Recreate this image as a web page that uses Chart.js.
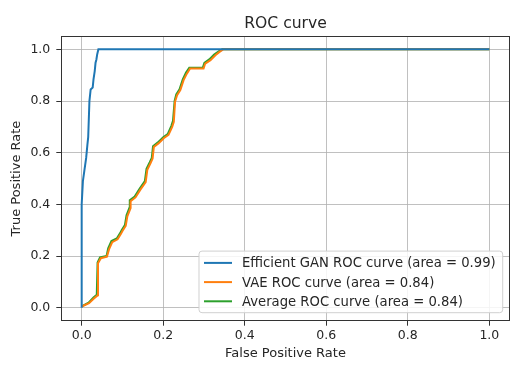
<!DOCTYPE html>
<html>
<head>
<meta charset="utf-8">
<script src="https://cdn.jsdelivr.net/npm/chart.js@4"></script>
<style>
  body { margin: 0; background: #fff; }
  #wrap { width: 525px; height: 369px; }
</style>
</head>
<body>
<div id="wrap"><canvas id="roc-grafica"></canvas></div>
<script>
// values
const ganFpr = [0, 0, 0.003, 0.0065, 0.011, 0.014, 0.016, 0.019, 0.022, 0.027, 0.029, 0.032, 0.034, 0.036, 0.038, 0.041, 1.0];
const ganTpr = [0, 0.40, 0.49, 0.53, 0.58, 0.63, 0.66, 0.80, 0.845, 0.852, 0.884, 0.916, 0.948, 0.96, 0.98, 1.0, 1.0];

const vaeFpr = [0, 0.018, 0.03, 0.039, 0.04, 0.047, 0.062, 0.067, 0.075, 0.088, 0.096, 0.1, 0.108, 0.112, 0.12, 0.12, 0.132, 0.144, 0.157, 0.161, 0.169, 0.174, 0.177, 0.189, 0.202, 0.213, 0.222, 0.226, 0.229, 0.234, 0.242, 0.25, 0.258, 0.266, 0.299, 0.303, 0.316, 0.328, 0.339, 0.347, 1.0];
const vaeTpr = [0.005, 0.018, 0.036, 0.048, 0.172, 0.192, 0.198, 0.226, 0.254, 0.265, 0.285, 0.297, 0.317, 0.354, 0.386, 0.412, 0.427, 0.457, 0.486, 0.534, 0.56, 0.578, 0.622, 0.637, 0.657, 0.669, 0.7, 0.72, 0.797, 0.823, 0.842, 0.881, 0.906, 0.926, 0.926, 0.945, 0.958, 0.977, 0.991, 1.0, 1.0];

const avgFpr = [0, 0.017, 0.029, 0.037, 0.039, 0.045, 0.061, 0.065, 0.073, 0.086, 0.094, 0.098, 0.106, 0.11, 0.118, 0.118, 0.13, 0.142, 0.155, 0.159, 0.167, 0.172, 0.175, 0.187, 0.2, 0.211, 0.22, 0.224, 0.228, 0.232, 0.24, 0.248, 0.256, 0.264, 0.297, 0.301, 0.313, 0.325, 0.337, 0.345, 1.0];
const avgTpr = [0.005, 0.02, 0.04, 0.05, 0.175, 0.195, 0.2, 0.23, 0.258, 0.268, 0.288, 0.30, 0.32, 0.358, 0.39, 0.416, 0.43, 0.46, 0.49, 0.538, 0.563, 0.58, 0.625, 0.64, 0.66, 0.672, 0.704, 0.723, 0.80, 0.826, 0.845, 0.884, 0.91, 0.929, 0.929, 0.948, 0.961, 0.98, 0.993, 1.0, 1.0];

const seriesLabels = [
    'Efficient GAN ROC curve (area = 0.99)',
    'VAE ROC curve (area = 0.84)',
    'Average ROC curve (area = 0.84)'
];
const xTicks = [0, 0.2, 0.4, 0.6, 0.8, 1.0];
const yTicks = [0, 0.2, 0.4, 0.6, 0.8, 1.0];

const fuente = '"DejaVu Sans", sans-serif';
const textoColor = '#262626';

const pares = (xs, ys) => xs.map((x, i) => ({ x: x, y: ys[i] }));

// black frame around the plot area
const marco = {
    id: 'marco',
    afterDatasetsDraw(chart) {
        const { ctx, chartArea } = chart;
        ctx.save();
        ctx.strokeStyle = '#333';
        ctx.lineWidth = 1;
        ctx.strokeRect(Math.round(chartArea.left) + 0.5, Math.round(chartArea.top) + 0.5,
            Math.round(chartArea.right - chartArea.left), Math.round(chartArea.bottom - chartArea.top));
        ctx.restore();
    }
};

// legend box in the lower right corner, like matplotlib
const leyenda = {
    id: 'leyenda',
    afterDraw(chart) {
        const { ctx, chartArea } = chart;
        const ds = chart.data.datasets;
        ctx.save();
        ctx.font = '13.2px ' + fuente;
        let maxW = 0;
        ds.forEach(d => { maxW = Math.max(maxW, ctx.measureText(d.label).width); });
        const w = 43 + maxW + 7;
        const h = 61.6;
        const x = chartArea.right - 7 - w;
        const y = chartArea.bottom - 8 - h;
        ctx.fillStyle = 'rgba(255,255,255,0.85)';
        ctx.strokeStyle = '#d0d0d0';
        ctx.lineWidth = 1;
        ctx.beginPath();
        ctx.roundRect(x, y, w, h, 3);
        ctx.fill();
        ctx.stroke();
        ds.forEach((d, i) => {
            const cy = y + 11.8 + i * 19.2;
            ctx.strokeStyle = d.borderColor;
            ctx.lineWidth = 2;
            ctx.beginPath();
            ctx.moveTo(x + 5, cy);
            ctx.lineTo(x + 33, cy);
            ctx.stroke();
            ctx.fillStyle = textoColor;
            ctx.textBaseline = 'middle';
            ctx.fillText(d.label, x + 43, cy + 1);
        });
        ctx.restore();
    }
};

const data = {
    datasets: [{
        label: seriesLabels[0],
        data: pares(ganFpr, ganTpr),
        borderColor: '#1f77b4'
    }, {
        label: seriesLabels[1],
        data: pares(vaeFpr, vaeTpr),
        borderColor: '#ff7f0e'
    }, {
        label: seriesLabels[2],
        data: pares(avgFpr, avgTpr),
        borderColor: '#2ca02c'
    }]
};

data.datasets.forEach(d => {
    d.showLine = true;
    d.pointRadius = 0;
    d.borderWidth = 2;
    d.tension = 0;
    d.fill = false;
});

const config = {
    type: 'scatter',
    data: data,
    options: {
        responsive: true,
        maintainAspectRatio: false,
        animation: false,
        layout: { padding: { left: 0, right: 15.3, top: 0, bottom: 0 } },
        plugins: {
            legend: { display: false },
            tooltip: { enabled: false },
            title: {
                display: true,
                text: 'ROC curve',
                fullSize: false,
                color: textoColor,
                font: { family: fuente, size: 15.6, weight: 'normal' },
                padding: { top: 14.6, bottom: 3.1 }
            }
        },
        scales: {
            x: {
                type: 'linear',
                min: -0.05,
                max: 1.05,
                afterBuildTicks: axis => { axis.ticks = xTicks.map(v => ({ value: v })); },
                afterFit: scale => { scale.height = 48.3; },
                border: { display: false },
                grid: { color: 'rgba(176,176,176,0.8)', tickColor: '#333', tickLength: 5 },
                ticks: {
                    color: textoColor,
                    padding: 3,
                    maxRotation: 0,
                    font: { family: fuente, size: 12.5 },
                    callback: v => v.toFixed(1)
                },
                title: {
                    display: true,
                    text: 'False Positive Rate',
                    color: textoColor,
                    font: { family: fuente, size: 13 },
                    padding: { top: 0, bottom: 7.9 }
                }
            },
            y: {
                type: 'linear',
                min: -0.05,
                max: 1.05,
                afterBuildTicks: axis => { axis.ticks = yTicks.map(v => ({ value: v })); },
                afterFit: scale => { scale.width = 61.3; },
                border: { display: false },
                grid: { color: 'rgba(176,176,176,0.8)', tickColor: '#333', tickLength: 5 },
                ticks: {
                    color: textoColor,
                    padding: 6,
                    font: { family: fuente, size: 12.5 },
                    callback: v => v.toFixed(1)
                },
                title: {
                    display: true,
                    text: 'True Positive Rate',
                    color: textoColor,
                    font: { family: fuente, size: 13 },
                    padding: { top: 9, bottom: 0 }
                }
            }
        }
    },
    plugins: [marco, leyenda]
};

const ctx = document.getElementById('roc-grafica').getContext('2d');
const rocChart = new Chart(ctx, config);
</script>
</body>
</html>
